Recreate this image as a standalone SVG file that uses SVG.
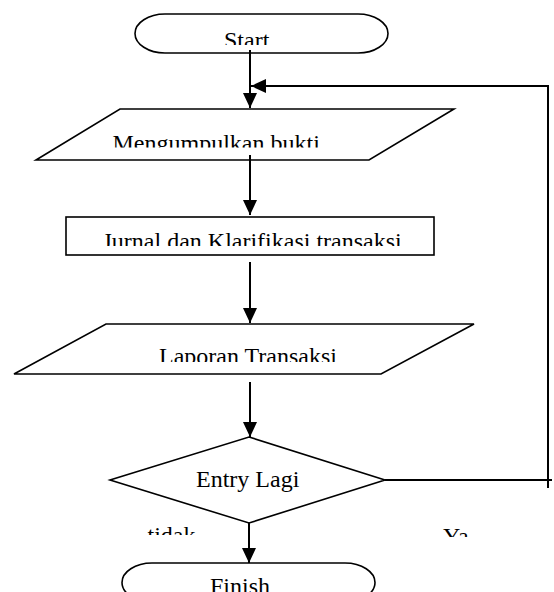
<svg xmlns="http://www.w3.org/2000/svg" width="554" height="592" viewBox="0 0 554 592">
<style>
.shape{fill:#fff;stroke:#000;stroke-width:1.6}
.conn{fill:none;stroke:#000;stroke-width:2}
.lbl{font-family:"Liberation Serif","Times New Roman",serif;font-size:24px;fill:#000}
</style>
<defs>
<marker id="arr" viewBox="0 0 15 14" refX="15" refY="7" markerWidth="15" markerHeight="14" markerUnits="userSpaceOnUse" orient="auto">
<path d="M0,0 L15,7 L0,14 z" fill="#000"/>
</marker>
<clipPath id="cStart"><rect x="0" y="0" width="554" height="45"/></clipPath>
<clipPath id="cMeng"><rect x="0" y="100" width="554" height="47.5"/></clipPath>
<clipPath id="cJur"><rect x="0" y="220" width="554" height="26"/></clipPath>
<clipPath id="cLap"><rect x="0" y="330" width="554" height="32"/></clipPath>
<clipPath id="cTid"><rect x="0" y="510" width="554" height="25"/></clipPath>
<clipPath id="cYa"><rect x="0" y="510" width="554" height="27"/></clipPath>
</defs>
<rect width="554" height="592" fill="#fff"/>
<g id="start">
<rect class="shape" x="135" y="14" width="253" height="39" rx="30" ry="19.5"/>
<text class="lbl" x="224" y="47.5" clip-path="url(#cStart)">Start</text>
</g>
<g id="mengumpulkan">
<polygon class="shape" points="120,109 454,109 369,160 36,160"/>
<text class="lbl" x="112.5" y="151" clip-path="url(#cMeng)">Mengumpulkan bukti</text>
</g>
<g id="jurnal">
<rect class="shape" x="66" y="217" width="368" height="38"/>
<text class="lbl" x="102.5" y="249" clip-path="url(#cJur)">Jurnal dan Klarifikasi transaksi</text>
</g>
<g id="laporan">
<polygon class="shape" points="106,324 474,324 381,374 14,374"/>
<text class="lbl" x="159" y="364" clip-path="url(#cLap)">Laporan Transaksi</text>
</g>
<g id="entry">
<polygon class="shape" points="249,437 385,480 249,523 110,480"/>
<text class="lbl" x="196" y="487">Entry Lagi</text>
</g>
<g id="finish">
<rect class="shape" x="122" y="563" width="253" height="39" rx="30" ry="19.5"/>
<text class="lbl" x="210" y="594">Finish</text>
</g>
<g id="connectors">
<line class="conn" x1="250" y1="50" x2="250" y2="108" marker-end="url(#arr)"/>
<polyline class="conn" points="385,480 552,480"/>
<polyline class="conn" points="548,488 548,86 251,86" marker-end="url(#arr)"/>
<line class="conn" x1="250" y1="155" x2="250" y2="215" marker-end="url(#arr)"/>
<line class="conn" x1="250" y1="262" x2="250" y2="323" marker-end="url(#arr)"/>
<line class="conn" x1="250" y1="382" x2="250" y2="437" marker-end="url(#arr)"/>
<line class="conn" x1="249" y1="523" x2="249" y2="563" marker-end="url(#arr)"/>
<text class="lbl" x="147.5" y="543" clip-path="url(#cTid)">tidak</text>
<text class="lbl" x="443" y="544" clip-path="url(#cYa)">Ya</text>
</g>
</svg>
